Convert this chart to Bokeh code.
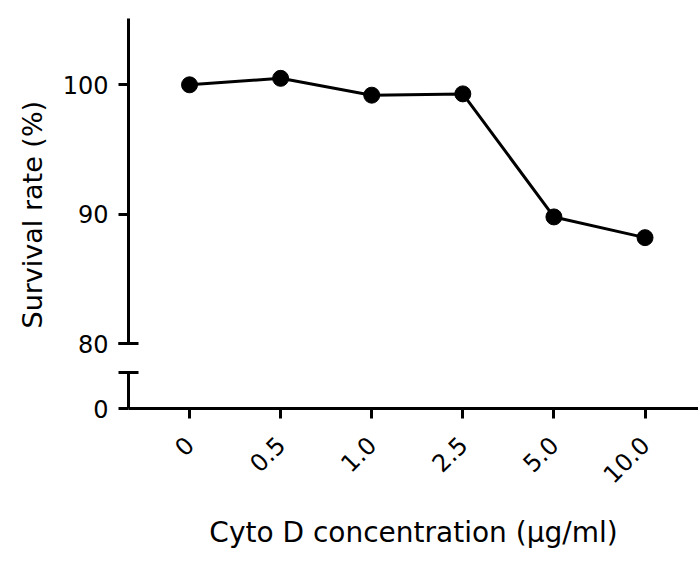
from math import pi

from bokeh.embed import file_html
from bokeh.layouts import column
from bokeh.models import FixedTicker, Range1d, Title
from bokeh.plotting import figure
from bokeh.resources import INLINE

# Cytochalasin D dose series and measured survival
concentrations = ["0", "0.5", "1.0", "2.5", "5.0", "10.0"]
survival = [100.0, 100.5, 99.2, 99.3, 89.8, 88.2]

upper_ticks = [80, 90, 100]   # labelled ticks on the upper (zoomed) segment
lower_ticks = [0]             # labelled tick on the lower segment

# broken y axis: the upper panel shows 80 .. UPPER_MAX, the lower panel 0 .. LOWER_TOP
UPPER_BREAK = 80
UPPER_MIN, UPPER_MAX = 78.56, 105.12
LOWER_TOP = 2.78
LOWER_MAX = 3.55

X_START, X_END = -0.67, 5.587

FONT = "DejaVu Sans"
BLACK = "#000000"
TICK_FONT_SIZE = "24px"
LABEL_FONT_SIZE = "27px"

TOP_HEIGHT = 362
BOTTOM_HEIGHT = 565 - TOP_HEIGHT

xr = Range1d(X_START, X_END)
xs = list(range(len(concentrations)))


def style_y_axis(ax, ticks, cap):
    ax.ticker = FixedTicker(ticks=ticks, minor_ticks=[cap])
    ax.axis_line_width = 3
    ax.axis_line_color = BLACK
    ax.major_tick_line_width = 3
    ax.major_tick_line_color = BLACK
    ax.major_tick_out = 10
    ax.major_tick_in = 0
    ax.minor_tick_line_width = 3
    ax.minor_tick_line_color = BLACK
    ax.minor_tick_out = 10
    ax.minor_tick_in = 10
    ax.major_label_standoff = 10
    ax.major_label_text_font = FONT
    ax.major_label_text_font_size = TICK_FONT_SIZE
    ax.major_label_text_color = BLACK


def clean(fig):
    fig.grid.visible = False
    fig.outline_line_color = None
    fig.background_fill_color = "white"
    fig.border_fill_color = "white"


# upper panel: the data
top = figure(
    width=698, height=TOP_HEIGHT,
    x_range=xr, y_range=Range1d(UPPER_MIN, UPPER_MAX),
    x_axis_location=None,
    output_backend="svg", toolbar_location=None,
    min_border_left=128, min_border_right=0,
    min_border_top=18, min_border_bottom=0,
)
clean(top)
top.line(xs, survival, line_width=3, line_color=BLACK)
top.scatter(xs, survival, size=16, fill_color=BLACK, line_color=BLACK)

ya = top.yaxis[0]
ya.bounds = (UPPER_BREAK, UPPER_MAX)
style_y_axis(ya, upper_ticks, UPPER_BREAK)

# y label spans both axis segments, so it is anchored from the panel bottom
top.add_layout(
    Title(
        text="Survival rate (%)", align="left", offset=34, standoff=24,
        text_font=FONT, text_font_size=LABEL_FONT_SIZE,
        text_line_height=1.0,
        text_font_style="normal", text_color=BLACK,
    ),
    "left",
)

# lower panel: zero segment of the y axis and the x axis
bottom = figure(
    width=698, height=BOTTOM_HEIGHT,
    x_range=xr, y_range=Range1d(0, LOWER_MAX),
    output_backend="svg", toolbar_location=None,
    min_border_left=128, min_border_right=0,
    min_border_top=0, min_border_bottom=157,
)
clean(bottom)

yb = bottom.yaxis[0]
yb.bounds = (0, LOWER_TOP)
style_y_axis(yb, lower_ticks, LOWER_TOP)

xa = bottom.xaxis[0]
xa.ticker = FixedTicker(ticks=xs)
xa.major_label_overrides = {i: c for i, c in zip(xs, concentrations)}
xa.major_label_orientation = pi / 4
xa.axis_line_width = 3
xa.axis_line_color = BLACK
xa.major_tick_line_width = 3
xa.major_tick_line_color = BLACK
xa.major_tick_out = 10
xa.major_tick_in = 0
xa.minor_tick_line_color = None
xa.major_label_standoff = 22
xa.major_label_text_font = FONT
xa.major_label_text_font_size = TICK_FONT_SIZE
xa.major_label_text_color = BLACK
xa.axis_label = "Cyto D concentration (μg/ml)"
xa.axis_label_text_font = FONT
xa.axis_label_text_font_size = "28px"
xa.axis_label_text_font_style = "normal"
xa.axis_label_text_color = BLACK
xa.axis_label_standoff = 22

layout = column(top, bottom, spacing=0)
open("out.html", "w").write(file_html(layout, INLINE))
